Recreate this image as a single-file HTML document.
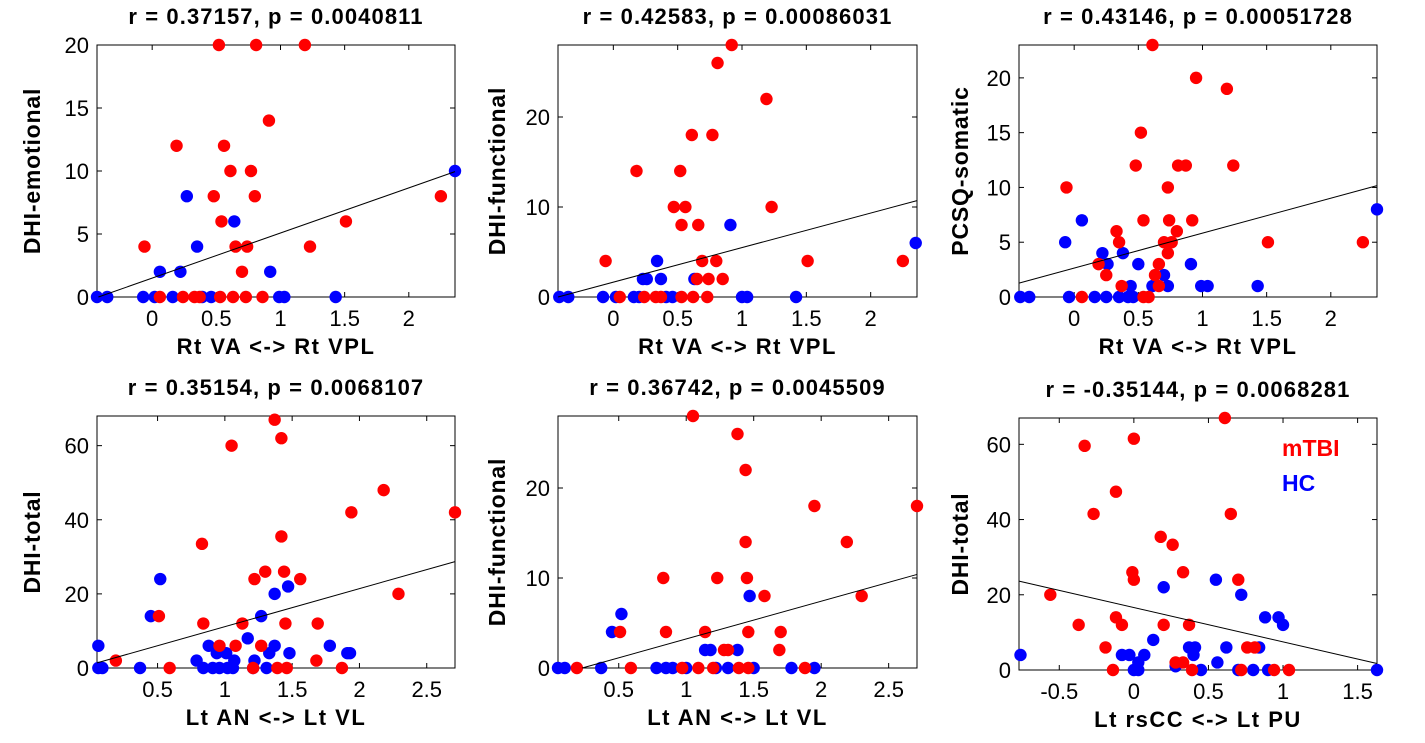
<!DOCTYPE html>
<html><head><meta charset="utf-8"><style>
html,body{margin:0;padding:0;background:#fff;width:1425px;height:743px;overflow:hidden}
svg{display:block;font-family:"Liberation Sans",Arial,sans-serif}
</style></head><body>
<svg id="chart" width="1425" height="743" viewBox="0 0 1425 743"></svg>
<script>
// ---- Panel 1 data ----
const p1RedX=[0.52,0.81,1.19,0.91,0.19,0.56,0.61,0.77,0.48,0.80,2.25,0.54,1.51,-0.06,0.65,0.74,1.23,0.70,0.06,0.24,0.33,0.37,0.53,0.63,0.73,0.86];
const p1RedY=[20,20,20,14,12,12,10,10,8,8,8,6,6,4,4,4,4,2,0,0,0,0,0,0,0,0];
const p1BlueX=[-0.43,-0.35,-0.07,0.02,0.16,0.39,0.46,0.99,1.03,1.43,0.06,0.22,0.92,0.27,0.35,0.64,2.36];
const p1BlueY=[0,0,0,0,0,0,0,0,0,0,2,2,2,8,4,6,10];
// ---- Panel 2 data ----
const p2RedX=[0.92,0.81,1.19,0.61,0.77,0.18,0.52,0.47,0.56,1.23,0.53,0.66,-0.06,0.69,0.80,1.51,2.25,0.65,0.74,0.85,0.05,0.24,0.33,0.37,0.53,0.62,0.73];
const p2RedY=[28,26,22,18,18,14,14,10,10,10,8,8,4,4,4,4,4,2,2,2,0,0,0,0,0,0,0];
const p2BlueX=[-0.42,-0.35,-0.08,0.02,0.16,0.20,0.41,0.46,1.00,1.04,1.42,0.34,0.23,0.26,0.37,0.63,0.91,2.35];
const p2BlueY=[0,0,0,0,0,0,0,0,0,0,0,4,2,2,2,2,8,6];
// ---- Panel 3 data ----
const p3RedX=[0.61,0.95,1.19,0.52,0.48,0.81,0.87,1.24,-0.06,0.73,0.54,0.74,0.92,0.33,0.80,0.35,0.70,0.76,1.51,2.25,0.73,0.19,0.66,0.25,0.63,0.37,0.66,0.06,0.54,0.58];
const p3RedY=[23,20,19,15,12,12,12,12,10,10,7,7,7,6,6,5,5,5,5,5,4,3,3,2,2,1,1,0,0,0];
const p3BlueX=[-0.42,-0.35,-0.04,0.16,0.25,0.35,0.42,0.46,-0.07,0.06,0.22,0.38,0.26,0.50,0.91,0.70,0.44,0.61,0.73,0.99,1.04,1.43,2.36];
const p3BlueY=[0,0,0,0,0,0,0,0,5,7,4,4,3,3,3,2,1,1,1,1,1,1,8];
// ---- Panel 4 data ----
const p4RedX=[1.37,1.42,1.05,2.18,1.94,2.71,1.42,0.83,1.30,1.44,1.22,1.56,2.29,0.51,0.84,1.13,1.45,1.69,0.96,1.08,1.27,0.19,1.68,0.59,1.21,1.39,1.46,1.87];
const p4RedY=[67,62,60,48,42,42,35.5,33.5,26,26,24,24,20,14,12,12,12,12,6,6,6,2,2,0,0,0,0,0];
const p4BlueX=[0.06,0.06,0.09,0.37,0.52,0.45,0.79,0.88,0.84,0.91,0.96,1.02,1.06,1.21,1.31,1.01,1.07,1.22,1.17,1.37,1.47,1.27,1.33,1.37,1.48,1.78,1.91,1.93,0.94];
const p4BlueY=[6,0,0,0,24,14,2,6,0,0,0,0,0,0,0,4,2,2,8,20,22,14,4,6,4,6,4,4,4];
// ---- Panel 5 data ----
const p5RedX=[1.05,1.38,1.44,1.95,2.71,1.44,2.19,0.83,1.23,1.45,1.58,2.30,0.51,0.85,1.14,1.46,1.70,1.28,1.31,1.69,0.19,0.59,0.97,1.09,1.20,1.39,1.46,1.88];
const p5RedY=[28,26,22,18,18,14,14,10,10,10,8,8,4,4,4,4,4,2,2,2,0,0,0,0,0,0,0,0];
const p5BlueX=[0.05,0.10,0.37,0.78,0.85,0.90,1.00,1.22,1.31,1.50,1.78,1.95,0.52,0.45,1.14,1.18,1.38,1.47];
const p5BlueY=[0,0,0,0,0,0,0,0,0,0,0,0,6,4,2,2,2,8];
// ---- Panel 6 data ----
const p6RedX=[0.61,0.00,-0.33,-0.12,-0.27,0.65,0.18,0.26,-0.01,0.00,0.33,0.70,-0.56,-0.12,-0.08,-0.37,0.20,0.37,-0.19,0.76,0.81,0.28,0.33,-0.14,0.39,0.72,0.94,1.04];
const p6RedY=[67,61.5,59.6,47.4,41.5,41.5,35.4,33.3,26,24,26,24,20,14,12,12,12,12,6,6,6,2,2,0,0,0,0,0];
const p6BlueX=[-0.76,0.20,0.55,0.72,0.88,0.97,1.00,0.13,-0.08,-0.03,0.07,0.03,0.00,0.03,0.28,0.37,0.41,0.40,0.62,0.84,0.56,0.45,0.70,0.80,0.90,1.63];
const p6BlueY=[4,22,24,20,14,14,12,8,4,4,4,2,0,0,1,6,6,4,6,6,2,0,0,0,0,0];
// ---- regression fits (slope, intercept) ----
const fitSlopes=[3.58,3.84,3.19,10.27,4.19,-9.12];
const fitIntercepts=[1.5,1.65,2.64,0.88,-0.96,16.6];
// ---- axis domains & ticks ----
const xDomains=[[-0.43,2.36],[-0.43,2.36],[-0.43,2.36],[0.05,2.71],[0.05,2.71],[-0.77,1.63]];
const yDomains=[[0,20],[0,28],[0,23],[0,68],[0,28],[0,67]];
const xTickLabels=[[0,0.5,1,1.5,2],[0,0.5,1,1.5,2],[0,0.5,1,1.5,2],[0.5,1,1.5,2,2.5],[0.5,1,1.5,2,2.5],[-0.5,0,0.5,1,1.5]];
const yTickLabels=[[0,5,10,15,20],[0,10,20],[0,5,10,15,20],[0,20,40,60],[0,10,20],[0,20,40,60]];
const titles=["r = 0.37157, p = 0.0040811","r = 0.42583, p = 0.00086031","r = 0.43146, p = 0.00051728","r = 0.35154, p = 0.0068107","r = 0.36742, p = 0.0045509","r = -0.35144, p = 0.0068281"];
const xLabels=["Rt VA <-> Rt VPL","Rt VA <-> Rt VPL","Rt VA <-> Rt VPL","Lt AN <-> Lt VL","Lt AN <-> Lt VL","Lt rsCC <-> Lt PU"];
const yLabels=["DHI-emotional","DHI-functional","PCSQ-somatic","DHI-total","DHI-functional","DHI-total"];

const panels=[
 {rx:p1RedX,ry:p1RedY,bx:p1BlueX,by:p1BlueY},
 {rx:p2RedX,ry:p2RedY,bx:p2BlueX,by:p2BlueY},
 {rx:p3RedX,ry:p3RedY,bx:p3BlueX,by:p3BlueY},
 {rx:p4RedX,ry:p4RedY,bx:p4BlueX,by:p4BlueY},
 {rx:p5RedX,ry:p5RedY,bx:p5BlueX,by:p5BlueY},
 {rx:p6RedX,ry:p6RedY,bx:p6BlueX,by:p6BlueY}];
const boxes=[[97,45,455,297],[558,45,917,297],[1019,45,1377,297],[97,416,455,668],[558,416,917,668],[1019,418,1377,670]];
const ylabX=[32,497,960,32,497,960];

const NS="http://www.w3.org/2000/svg";
const svg=document.getElementById('chart');
function mk(tag,attrs,parent){const e=document.createElementNS(NS,tag);for(const k in attrs)e.setAttribute(k,attrs[k]);(parent||svg).appendChild(e);return e;}

panels.forEach((p,i)=>{
  const [L,T,R,B]=boxes[i];
  const [x0,x1]=xDomains[i],[y0,y1]=yDomains[i];
  const sx=v=>L+(v-x0)/(x1-x0)*(R-L);
  const sy=v=>B-(v-y0)/(y1-y0)*(B-T);
  const g=mk('g',{});
  
  
  const t=mk('text',{x:(L+R)/2,y:T-21,'text-anchor':'middle','font-size':22,'font-weight':'bold','letter-spacing':1.1},g);
  t.textContent=titles[i];
  
  
  const fr=mk('rect',{x:L,y:T,width:R-L,height:B-T,fill:'#fff',stroke:'#000','stroke-width':1},g);
  
  
  xTickLabels[i].forEach(v=>{
    const X=sx(v);
    mk('line',{x1:X,y1:B,x2:X,y2:B-5,stroke:'#000'},g);
    mk('line',{x1:X,y1:T,x2:X,y2:T+5,stroke:'#000'},g);
    const tl=mk('text',{x:X,y:B+29,'text-anchor':'middle','font-size':22},g);
    tl.textContent=String(v);
    
    
  });
  yTickLabels[i].forEach(v=>{
    const Y=sy(v);
    mk('line',{x1:L,y1:Y,x2:L+5,y2:Y,stroke:'#000'},g);
    mk('line',{x1:R,y1:Y,x2:R-5,y2:Y,stroke:'#000'},g);
    const tl=mk('text',{x:L-8,y:Y+8,'text-anchor':'end','font-size':22},g);
    tl.textContent=String(v);
    
    
  });
  const xl=mk('text',{x:(L+R)/2,y:B+57,'text-anchor':'middle','font-size':22,'font-weight':'bold','letter-spacing':1.5},g);
  xl.textContent=xLabels[i];
  
  
  const yc=(T+B)/2;
  const yl=mk('text',{x:ylabX[i],y:yc,'text-anchor':'middle','font-size':23,'font-weight':'bold','letter-spacing':0.8,transform:'rotate(-90 '+ylabX[i]+' '+yc+')','dominant-baseline':'central'},g);
  yl.textContent=yLabels[i];
  
  
  p.bx.forEach((v,j)=>{
    const c=mk('circle',{cx:sx(v),cy:sy(p.by[j]),r:6.2,fill:'#0000ff'},g);
    
    
  });
  p.rx.forEach((v,j)=>{
    const c=mk('circle',{cx:sx(v),cy:sy(p.ry[j]),r:6.2,fill:'#ff0000'},g);
    
    
  });
  let xa=x0,xb=x1,ya=fitIntercepts[i]+fitSlopes[i]*xa,yb=fitIntercepts[i]+fitSlopes[i]*xb;
  if(ya<y0){xa=(y0-fitIntercepts[i])/fitSlopes[i];ya=y0;}
  if(yb<y0){xb=(y0-fitIntercepts[i])/fitSlopes[i];yb=y0;}
  const ln=mk('line',{x1:sx(xa),y1:sy(ya),x2:sx(xb),y2:sy(yb),stroke:'#000','stroke-width':1},g);
  
  
});
const lg1=mk('text',{x:1282,y:456,'font-size':23,'font-weight':'bold',fill:'#ff0000'});
lg1.textContent='mTBI';


const lg2=mk('text',{x:1282,y:491,'font-size':23,'font-weight':'bold',fill:'#0000ff'});
lg2.textContent='HC';


</script>
</body></html>
